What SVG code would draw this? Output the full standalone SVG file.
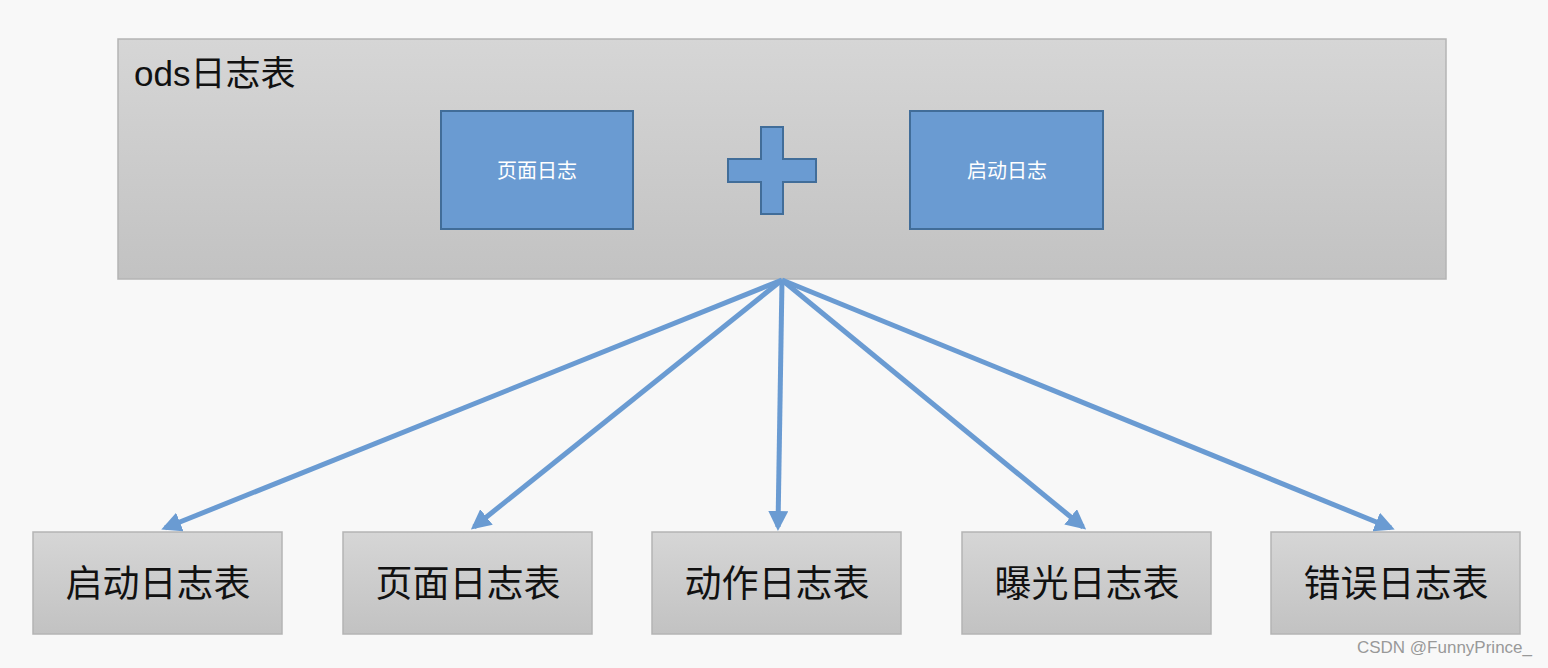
<svg xmlns="http://www.w3.org/2000/svg" width="1548" height="668" viewBox="0 0 1548 668">
<style>
.t{font-family:"Liberation Sans","Noto Sans CJK SC",sans-serif}
.box{fill:url(#g);stroke:#b4b4b4;stroke-width:1.5}
.blue{fill:#6a9bd2;stroke:#416d99;stroke-width:2}
.c{stroke:#6a9bd2;stroke-width:5;fill:none;marker-end:url(#a)}
.bt{font-size:37px;fill:#111;text-anchor:middle}
.st{font-size:20px;fill:#fff;text-anchor:middle}
</style>
<defs>
<linearGradient id="g" x1="0" y1="0" x2="0" y2="1"><stop offset="0" stop-color="#d6d6d6"/><stop offset="1" stop-color="#c2c2c2"/></linearGradient>
<marker id="a" viewBox="0 0 10 10" refX="8" refY="5" markerWidth="4" markerHeight="4" orient="auto" markerUnits="strokeWidth"><path d="M0,0 L10,5 L0,10 Z" fill="#6a9bd2"/></marker>
</defs>
<rect width="1548" height="668" fill="#f8f8f8"/>
<g id="ods">
<rect class="box" x="118" y="39" width="1328" height="240"/>
<text class="t" x="134" y="86" font-size="35" fill="#111">ods日志表</text>
</g>
<g id="page"><rect class="blue" x="441" y="111" width="192" height="118"/><text class="t st" x="537" y="178">页面日志</text></g>
<g id="plus"><path class="blue" d="M761,127 H783 V159 H816 V182 H783 V214 H761 V182 H728 V159 H761 Z"/></g>
<g id="start"><rect class="blue" x="910" y="111" width="193" height="118"/><text class="t st" x="1007" y="178">启动日志</text></g>
<g id="b1"><rect class="box" x="33" y="532" width="249" height="102"/><text class="t bt" x="158" y="597">启动日志表</text></g>
<g id="b2"><rect class="box" x="343" y="532" width="249" height="102"/><text class="t bt" x="468" y="597">页面日志表</text></g>
<g id="b3"><rect class="box" x="652" y="532" width="249" height="102"/><text class="t bt" x="777" y="597">动作日志表</text></g>
<g id="b4"><rect class="box" x="962" y="532" width="249" height="102"/><text class="t bt" x="1087" y="597">曝光日志表</text></g>
<g id="b5"><rect class="box" x="1271" y="532" width="249" height="102"/><text class="t bt" x="1396" y="597">错误日志表</text></g>
<g id="connectors">
<line class="c" x1="782" y1="280" x2="165" y2="528"/>
<line class="c" x1="782" y1="280" x2="474" y2="527"/>
<line class="c" x1="782" y1="280" x2="778" y2="527"/>
<line class="c" x1="782" y1="280" x2="1083" y2="527"/>
<line class="c" x1="782" y1="280" x2="1391" y2="528"/>
</g>
<text class="t" x="1532" y="653" font-size="17" fill="#999" text-anchor="end">CSDN @FunnyPrince_</text>
</svg>
